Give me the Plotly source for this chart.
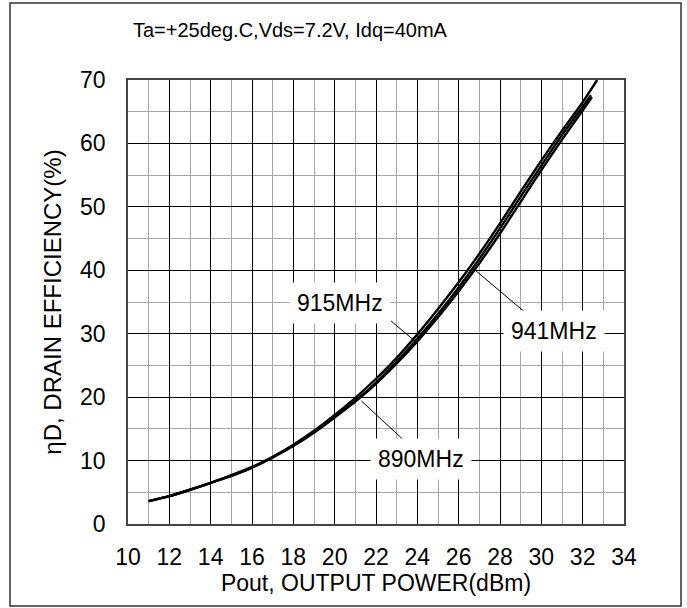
import plotly.graph_objects as go

# ---- data ----
pout_890 = [11, 12, 13, 14, 15, 16, 17, 18, 19, 20, 21, 22, 23, 24, 25, 26, 27, 28, 29, 30, 31, 32, 32.4]
eff_890 = [3.6, 4.4, 5.4, 6.5, 7.6, 8.9, 10.5, 12.4, 14.5, 16.9, 19.4, 22.3, 25.6, 29.2, 33.1, 37.3, 41.8, 46.6, 51.6, 56.5, 61.3, 65.8, 67.6]

pout_915 = [11, 12, 13, 14, 15, 16, 17, 18, 19, 20, 21, 22, 23, 24, 25, 26, 27, 28, 29, 30, 31, 32, 32.7]
eff_915 = [3.6, 4.4, 5.4, 6.5, 7.7, 9.0, 10.6, 12.5, 14.7, 17.2, 19.9, 22.9, 26.2, 29.9, 33.9, 38.1, 42.6, 47.4, 52.4, 57.3, 62.0, 66.5, 70.0]

pout_941 = [11, 12, 13, 14, 15, 16, 17, 18, 19, 20, 21, 22, 23, 24, 25, 26, 27, 28, 29, 30, 31, 32, 32.45]
eff_941 = [3.6, 4.4, 5.4, 6.5, 7.6, 8.9, 10.5, 12.3, 14.4, 16.8, 19.3, 22.1, 25.3, 28.8, 32.6, 36.7, 41.1, 45.8, 50.8, 55.8, 60.6, 65.2, 67.3]

series_names = ["890MHz", "915MHz", "941MHz"]
# label positions (data units) and leader-line ends
label_x = [24.2, 20.25, 30.6]
label_y = [10.3, 34.9, 30.4]
leader_from_x = [23.3, 22.73, 29.2]
leader_from_y = [13.35, 32.0, 33.4]
leader_to_x = [21.29, 23.86, 26.84]
leader_to_y = [19.4, 28.9, 39.9]

title_text = "Ta=+25deg.C,Vds=7.2V, Idq=40mA"
x_title = "Pout, OUTPUT POWER(dBm)"
y_title = "ηD, DRAIN EFFICIENCY(%)"
x_ticks = list(range(10, 35, 2))
y_ticks = list(range(0, 71, 10))

FONT = "Liberation Sans, Arial, sans-serif"

fig = go.Figure()
for xs, ys, name in [(pout_890, eff_890, series_names[0]),
                     (pout_915, eff_915, series_names[1]),
                     (pout_941, eff_941, series_names[2])]:
    fig.add_trace(go.Scatter(x=xs, y=ys, mode="lines", name=name,
                             line=dict(color="black", width=2.4, shape="spline", smoothing=0.6),
                             showlegend=False, hoverinfo="skip"))

shapes = []
for i in range(3):
    shapes.append(dict(type="line", xref="x", yref="y",
                       x0=leader_from_x[i], y0=leader_from_y[i],
                       x1=leader_to_x[i], y1=leader_to_y[i],
                       line=dict(color="black", width=1), layer="above"))
# outer frame
shapes.append(dict(type="rect", xref="paper", yref="paper",
                   x0=(10 - 128) / 496, x1=(681 - 128) / 496,
                   y0=(524 - 606) / 444, y1=(524 - 3) / 444,
                   line=dict(color="#333", width=1.5), layer="below"))

annotations = []
for i in range(3):
    annotations.append(dict(x=label_x[i], y=label_y[i], xref="x", yref="y",
                            text=series_names[i], showarrow=False,
                            font=dict(family=FONT, size=23, color="black"),
                            bgcolor="white", borderpad=7))
annotations.append(dict(x=(131 - 128) / 496, y=(524 - 30) / 444, xref="paper", yref="paper",
                        xanchor="left", yanchor="middle", text=title_text, showarrow=False,
                        font=dict(family=FONT, size=20, color="black")))

fig.update_layout(
    width=687, height=608,
    margin=dict(l=128, r=63, t=80, b=84),
    paper_bgcolor="white", plot_bgcolor="white",
    shapes=shapes, annotations=annotations,
    font=dict(family=FONT, color="black"),
)
fig.update_xaxes(range=[10, 34], tickvals=x_ticks, ticks="", showgrid=True,
                 gridcolor="black", gridwidth=1,
                 minor=dict(dtick=1, showgrid=True, gridcolor="#a6a6a6", gridwidth=1),
                 showline=True, linecolor="#444", linewidth=1.5, mirror=True,
                 tickfont=dict(size=23), ticklabelstandoff=12,
                 title=dict(text=x_title, font=dict(size=23), standoff=4),
                 zeroline=False)
fig.update_yaxes(range=[0, 70], tickvals=y_ticks, ticks="", showgrid=True,
                 gridcolor="black", gridwidth=1,
                 minor=dict(dtick=5, showgrid=True, gridcolor="#a6a6a6", gridwidth=1),
                 showline=True, linecolor="#444", linewidth=1.5, mirror=True,
                 tickfont=dict(size=23), ticklabelstandoff=16,
                 title=dict(text=y_title, font=dict(size=24), standoff=12),
                 zeroline=False)

fig.write_html("out.html")
